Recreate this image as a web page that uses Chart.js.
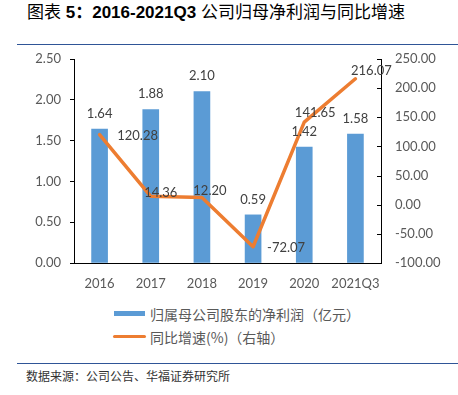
<!DOCTYPE html>
<html>
<head>
<meta charset="utf-8">
<script src="https://cdn.jsdelivr.net/npm/chart.js@4"></script>
<style>
  body { margin: 0; background: #fff; width: 458px; height: 395px; position: relative; overflow: hidden; }
  #titulo { position: absolute; left: 27px; top: 1px; font-size: 17px; line-height: 20px; color: #000; white-space: nowrap;
            font-family: "Liberation Sans", "Noto Sans CJK SC", sans-serif; }
  #titulo b { font-weight: bold; }
  #titulo .cjk { font-family: "Noto Sans CJK SC", sans-serif; font-weight: normal; }
  .linha { position: absolute; height: 1px; background: #2F5597; }
  #grafico { position: absolute; left: 0; top: 0; }
  .leg { position: absolute; left: 150px; font-family: "Noto Sans CJK SC", sans-serif; font-size: 14px; line-height: 18px; color: #595959; white-space: nowrap; }
  .amostra { position: absolute; }
  #fonte { position: absolute; left: 26px; top: 368px; font-family: "Noto Sans CJK SC", sans-serif; font-size: 12px; line-height: 16px; color: #333; white-space: nowrap; }
</style>
</head>
<body>
  <div id="titulo"><span class="cjk">图表</span> <b>5：2016-2021Q3</b> <span class="cjk">公司归母净利润与同比增速</span></div>
  <div class="linha" style="left:17px; top:44px; width:441px;"></div>

  <canvas id="grafico" width="458" height="300"></canvas>

  <!-- Legenda -->
  <div class="amostra" style="left:114px; top:311px; width:31px; height:5px; background:#5B9BD5;"></div>
  <div class="leg" style="top:305px;">归属母公司股东的净利润（亿元）</div>
  <div class="amostra" style="left:113px; top:335px; width:33px; height:3px; background:#ED7D31; border-radius:2px;"></div>
  <div class="leg" style="top:328px;">同比增速(%)（右轴）</div>

  <div class="linha" style="left:17px; top:363px; width:441px;"></div>
  <div id="fonte">数据来源：公司公告、华福证券研究所</div>

<script>
const categorias = ['2016', '2017', '2018', '2019', '2020', '2021Q3'];
const lucroLiquido = [1.64, 1.88, 2.10, 0.59, 1.42, 1.58];
const crescimento = [120.28, 14.36, 12.20, -72.07, 141.65, 216.07];
const ticksEsquerda = [0, 0.5, 1.0, 1.5, 2.0, 2.5];
const ticksDireita = [-100, -50, 0, 50, 100, 150, 200, 250];

const fonteNum = { family: 'Lato, "Liberation Sans", sans-serif', size: 13 };

// deslocamento dos rótulos da linha em relação ao ponto (como no original)
const deslocRotulos = [[38, 1], [10, -4], [8, -7], [33, 1], [11, -9], [16, -8]];

// rótulos de dados + marcas internas do eixo direito
const pluginRotulos = {
  id: 'rotulos',
  afterDatasetsDraw(chart) {
    const ctx = chart.ctx;
    ctx.save();
    ctx.font = '13px Lato, "Liberation Sans", sans-serif';
    ctx.fillStyle = '#404040';
    ctx.textAlign = 'center';
    ctx.textBaseline = 'middle';

    chart.getDatasetMeta(0).data.forEach((el, i) => {
      ctx.fillText(lucroLiquido[i].toFixed(2), el.x, el.y - 15.5);
    });
    chart.getDatasetMeta(1).data.forEach((el, i) => {
      const [dx, dy] = deslocRotulos[i];
      ctx.fillText(crescimento[i].toFixed(2), el.x + dx, el.y + dy);
    });

    const y1 = chart.scales.y1;
    ctx.strokeStyle = '#000';
    ctx.lineWidth = 1;
    ticksDireita.forEach(v => {
      const py = Math.round(y1.getPixelForValue(v)) + 0.5;
      ctx.beginPath();
      ctx.moveTo(y1.left - 4, py);
      ctx.lineTo(y1.left, py);
      ctx.stroke();
    });
    ctx.restore();
  }
};

new Chart(document.getElementById('grafico'), {
  data: {
    labels: categorias,
    datasets: [
      {
        type: 'bar',
        label: '归属母公司股东的净利润（亿元）',
        data: lucroLiquido,
        backgroundColor: '#5B9BD5',
        barThickness: 16,
        yAxisID: 'y',
        order: 2
      },
      {
        type: 'line',
        label: '同比增速(%)（右轴）',
        data: crescimento,
        borderColor: '#ED7D31',
        borderWidth: 3.5,
        pointRadius: 0,
        tension: 0,
        borderJoinStyle: 'round',
        borderCapStyle: 'round',
        yAxisID: 'y1',
        order: 1
      }
    ]
  },
  options: {
    responsive: false,
    devicePixelRatio: 1,
    animation: false,
    layout: { padding: { top: 59, left: 0, right: 0, bottom: 0 } },
    plugins: {
      legend: { display: false },
      tooltip: { enabled: false }
    },
    scales: {
      x: {
        offset: true,
        grid: { display: true, drawOnChartArea: false, drawTicks: false },
        border: { display: true, color: '#000', width: 1 },
        ticks: { font: fonteNum, color: '#595959', padding: 13, maxRotation: 0 },
        afterFit(scale) { scale.height = 37; }
      },
      y: {
        position: 'left',
        min: 0,
        max: 2.5,
        afterBuildTicks(scale) { scale.ticks = ticksEsquerda.map(v => ({ value: v })); },
        grid: { display: true, drawOnChartArea: false, drawTicks: true, tickLength: 4, color: '#000' },
        border: { display: true, color: '#000', width: 1 },
        ticks: { font: fonteNum, color: '#595959', padding: 9, callback: v => Number(v).toFixed(2) },
        afterFit(scale) { scale.width = 74; }
      },
      y1: {
        position: 'right',
        min: -100,
        max: 250,
        afterBuildTicks(scale) { scale.ticks = ticksDireita.map(v => ({ value: v })); },
        grid: { display: true, drawOnChartArea: false, drawTicks: false },
        border: { display: true, color: '#000', width: 1 },
        ticks: { font: fonteNum, color: '#595959', padding: 14, callback: v => Number(v).toFixed(2) },
        afterFit(scale) { scale.width = 77; }
      }
    }
  },
  plugins: [pluginRotulos]
});
</script>
</body>
</html>
